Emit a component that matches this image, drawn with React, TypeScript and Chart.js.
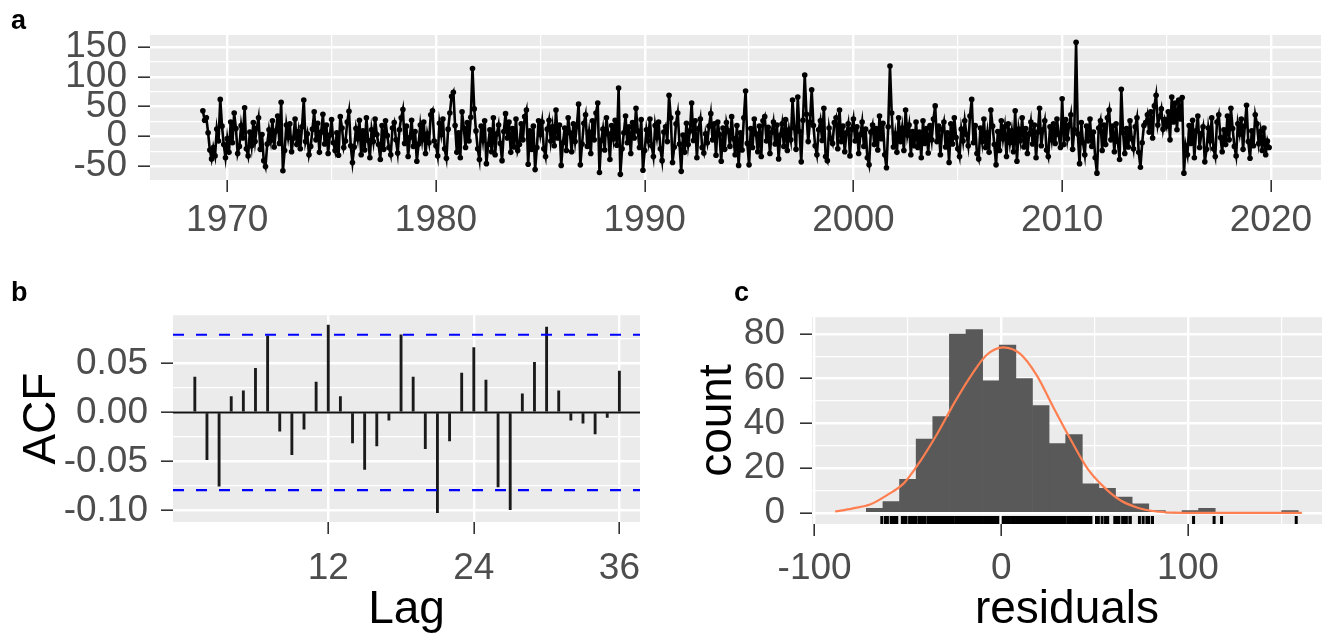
import React, { useEffect, useRef } from 'react';
import { Chart, registerables } from 'chart.js';

Chart.register(...registerables);

// ---------------- DATA ----------------
// Monthly residuals, starting November 1968 (panel a)
const seriesStartYear = 1968;
const seriesStartMonth = 10; // 0-based: November
const residuals: number[] = [
  43, 27,
  31, 6, -23, -38, -19, -33, 12, -8, 62, 17, -14, -36,
  -4, -27, 24, -11, 39, 13, -29, -17, 18, -3, 48, -21,
  -33, 7, -16, 23, -9, 14, 31, -22, 3, -41, -51, -13,
  11, -7, 26, -18, 9, 34, -12, 57, -58, -24, 19, -2,
  21, -26, -3, 29, -14, 8, -21, 16, 61, -9, 4, -31,
  -17, 12, 41, -6, 22, -27, 7, 37, -13, 19, -29, 2,
  28, -11, -24, 6, -32, 33, 14, -19, -8, 24, 42, -16,
  -44, -18, 13, -4, 27, -31, 9, -23, 31, -7, -36, 11,
  -9, 29, 3, -14, -39, 18, -22, 26, 1, -19, -31, 14,
  23, -6, -28, 11, 31, 45, -12, 17, -34, -2, 27, -17,
  8, -42, -13, 19, -6, 24, -29, 4, -11, 36, 43, -8,
  -16, -33, 22, 3, 29, -21, -37, 12, 39, 67, 74, 18,
  -27, 6, -36, 41, 14, -19, 23, -8, 32, 114, 46, 9,
  -21, -39, 17, -7, 26, -46, -14, 11, -26, 31, -31, 4,
  19, -12, -41, 8, 38, -3, 24, -27, 13, -18, 29, -24,
  -14, 21, -6, 33, 44, -47, 9, -22, 17, -56, -19, 26,
  3, 24, -21, -34, 12, 27, -8, 16, -16, 44, -3, 19,
  -49, -11, 14, -24, 31, 6, -26, 21, -9, 17, 54, -48,
  -13, 22, 36, -17, 7, -29, 26, -6, 39, 56, -61, -7,
  12, -23, 31, 4, -39, 18, -4, 27, -15, 81, -64, -21,
  6, 34, -11, 16, -29, 23, -3, 47, 9, -19, 28, -57,
  -24, 11, -8, 29, -16, -34, 18, -2, 24, -21, -41, 7,
  16, -9, 69, 31, -44, -18, 21, 39, -13, -59, 2, -27,
  22, -14, 9, 56, -7, 26, -36, 13, 29, -19, -28, 4,
  -11, 17, 38, -6, 21, -32, 24, 3, -42, 14, -22, 23,
  9, -17, 33, -4, -31, 18, -49, 6, -23, 31, 76, -12,
  -48, 13, -19, 29, 4, -26, 17, -34, 26, 33, -8, 15,
  -29, 7, 24, -13, 19, -38, 2, 21, -17, 28, -24, 11,
  -6, 61, 14, -22, 66, 8, -43, 27, 103, 37, -9, 24,
  78, 18, -16, -31, 11, 26, -7, 47, -34, -41, 14, -4,
  -12, 23, 31, -21, 44, -9, 17, -26, 6, 21, -33, 12,
  29, -8, 16, -29, 3, 24, -17, 12, -36, -48, 7, 19,
  -14, 13, -23, 34, -4, 22, -31, -53, 16, 118, 39, -18,
  4, -27, 31, -9, 14, -24, 44, 2, 19, -31, 8, -16,
  24, -19, 7, -36, 26, -12, 13, -28, 18, -6, 29, 51,
  -9, 17, -31, 11, 24, -18, 6, -44, 21, -13, 31, -2,
  -21, -34, 12, -8, 26, 3, -16, 34, 62, -11, 18, -29,
  -38, 14, -9, 29, -19, 6, -27, 44, 17, -14, -48, 8,
  -24, 26, -4, 16, -34, 21, -11, 9, -26, 43, -42, 12,
  -7, 31, -18, 13, -29, 4, 24, -13, 19, -36, 7, 47,
  -16, 11, 26, -23, -34, 16, -6, 21, -12, 29, 3, -19,
  63, -14, 28, -4, 19, 36, -22, 11, 158, 4, -46, 23,
  -11, -31, 17, -8, 29, -17, 7, -36, -62, 14, 26, -24,
  19, -14, 31, 44, -6, 17, -26, 21, -9, -39, 79, 6,
  -29, 13, -18, 26, -4, -21, 16, 31, -27, -52, -11, 18,
  23, 36, 7, 41, -3, 51, 69, 19, 33, 46, 12, 28,
  17, 41, -6, 66, 24, 56, 11, 61, 29, 65, -62, -16,
  -31, 18, -12, 27, -36, 9, 34, -19, 4, 16, -43, -22,
  14, -8, 31, -21, -34, 24, 36, -2, -26, 11, -14, 34,
  -6, 47, 13, -17, -33, 21, 4, 29, -22, 17, 52, -9,
  -37, 9, -16, 36, 21, -12, 8, -24, 14, -31, -8, -19,
];

// Panel b: autocorrelation of the residuals
const acfLags: number[] = [
  1, 2, 3, 4, 5, 6, 7, 8, 9, 10, 11, 12, 13, 14, 15, 16, 17, 18,
  19, 20, 21, 22, 23, 24, 25, 26, 27, 28, 29, 30, 31, 32, 33, 34, 35, 36,
];
const acfValues: number[] = [
  0.036, -0.048, -0.075, 0.016, 0.022, 0.045, 0.078, -0.019, -0.043, -0.017, 0.031, 0.089,
  0.016, -0.031, -0.058, -0.034, -0.008, 0.079, 0.036, -0.037, -0.102, -0.029, 0.040, 0.066,
  0.033, -0.076, -0.099, 0.019, 0.051, 0.087, 0.022, -0.008, -0.011, -0.022, -0.005, 0.042,
];
const acfBound = 0.0791;

// Panel c: histogram of residuals and fitted normal curve
const histBinCenters: number[] = [
  -67.85, -58.95, -50.05, -41.15, -32.25, -23.35, -14.45, -5.55, 3.35, 12.25, 21.15, 30.05, 38.95,
  47.85, 56.75, 65.65, 74.55, 83.45, 92.35, 101.25, 110.15, 119.05, 127.95, 136.85, 145.75, 154.65,
];
const histCounts: number[] = [
  2, 5, 15, 33, 43, 80, 82, 59, 75, 60, 48, 31, 35,
  13, 11, 7, 4, 1, 0, 1, 2, 0, 0, 0, 0, 1,
];
const curveX: number[] = [
  -89, -80, -70, -61, -52, -43, -34, -25, -16, -8, 1, 10, 19, 28, 37, 46, 55, 64, 73, 82, 92, 105, 130, 161,
];
const curveY: number[] = [
  0.6, 1.9, 3.8, 8, 13.4, 23.6, 35.8, 49.4, 61.6, 70.5, 74, 71.2, 61.5, 47, 33, 20, 11.5, 5.5, 2.3, 0.7, 0.1, 0, 0, 0,
];

// Axis breaks
const aYMajor = [-50, 0, 50, 100, 150];
const aYMinor = [-75, -25, 25, 75, 125, 175];
const aXMajor = [1970, 1980, 1990, 2000, 2010, 2020];
const aXMinor = [1965, 1975, 1985, 1995, 2005, 2015, 2025];
const bYMajor = [-0.1, -0.05, 0, 0.05, 0.1];
const bYMinor = [-0.075, -0.025, 0.025, 0.075];
const bXMajor = [12, 24, 36];
const cYMajor = [0, 20, 40, 60, 80];
const cYMinor = [10, 30, 50, 70, 90];
const cXMajor = [-100, 0, 100];
const cXMinor = [-50, 50, 150];

// ---------------- STYLE ----------------
const FONT = "'Liberation Sans', Arial, sans-serif";
const TICK_TEXT = '#4D4D4D';
const PANEL_BG = '#EBEBEB';

const isIn = (arr: number[], v: number) => arr.some((m) => Math.abs(m - v) < 1e-9);

function axis(o: {
  axis: 'x' | 'y';
  min: number;
  max: number;
  majors: number[];
  minors: number[];
  fmt: (v: number) => string;
  size: number;
  pad: number;
  title?: string;
  titlePad?: number;
}) {
  const all = [...o.majors, ...o.minors]
    .filter((v) => v >= o.min && v <= o.max)
    .sort((a, b) => a - b);
  return {
    type: 'linear',
    position: o.axis === 'x' ? 'bottom' : 'left',
    min: o.min,
    max: o.max,
    offset: false,
    afterBuildTicks: (s: any) => {
      s.ticks = all.map((v) => ({ value: v }));
    },
    afterFit: (s: any) => {
      if (o.axis === 'x') s.height = o.size;
      else s.width = o.size;
    },
    ticks: {
      autoSkip: false,
      maxRotation: 0,
      minRotation: 0,
      padding: o.pad,
      color: TICK_TEXT,
      font: { family: FONT, size: 37 },
      callback: (v: number) => (isIn(o.majors, v) ? o.fmt(v) : ''),
    },
    grid: {
      offset: false,
      color: '#FFFFFF',
      lineWidth: (c: any) => (c.tick && isIn(o.majors, c.tick.value) ? 2.4 : 1.2),
      tickColor: (c: any) => (c.tick && isIn(o.majors, c.tick.value) ? '#333333' : 'rgba(0,0,0,0)'),
      tickLength: 12,
      tickWidth: 1.6,
      drawTicks: true,
    },
    border: { display: false },
    title: o.title
      ? {
          display: true,
          text: o.title,
          color: '#000000',
          font: { family: FONT, size: 46 },
          padding: { top: o.titlePad ?? 0, bottom: o.titlePad ?? 0 },
        }
      : { display: false },
  };
}

const bgPlugin = {
  id: 'panelBg',
  beforeDraw(chart: any) {
    const { ctx, chartArea: a } = chart;
    ctx.save();
    ctx.fillStyle = PANEL_BG;
    ctx.fillRect(a.left, a.top, a.right - a.left, a.bottom - a.top);
    ctx.restore();
  },
};

const acfLinesPlugin = {
  id: 'acfLines',
  afterDatasetsDraw(chart: any) {
    const { ctx, chartArea: a, scales } = chart;
    const y = scales.y;
    ctx.save();
    ctx.beginPath();
    ctx.rect(a.left, a.top, a.right - a.left, a.bottom - a.top);
    ctx.clip();
    ctx.strokeStyle = '#111111';
    ctx.lineWidth = 2;
    ctx.beginPath();
    const y0 = y.getPixelForValue(0);
    ctx.moveTo(a.left, y0);
    ctx.lineTo(a.right, y0);
    ctx.stroke();
    ctx.strokeStyle = '#0000FF';
    ctx.lineWidth = 2.2;
    ctx.setLineDash([11, 12]);
    [acfBound, -acfBound].forEach((v) => {
      const py = y.getPixelForValue(v);
      ctx.beginPath();
      ctx.moveTo(a.left, py);
      ctx.lineTo(a.right, py);
      ctx.stroke();
    });
    ctx.restore();
  },
};

const rugPlugin = {
  id: 'rug',
  afterDatasetsDraw(chart: any) {
    const { ctx, chartArea: a, scales } = chart;
    const x = scales.x;
    ctx.save();
    ctx.beginPath();
    ctx.rect(a.left, a.top, a.right - a.left, a.bottom - a.top);
    ctx.clip();
    ctx.strokeStyle = '#000000';
    ctx.lineWidth = 3;
    residuals.forEach((r) => {
      const px = x.getPixelForValue(r);
      ctx.beginPath();
      ctx.moveTo(px, a.bottom);
      ctx.lineTo(px, a.bottom - 8);
      ctx.stroke();
    });
    ctx.restore();
  },
};

const baseOpts = {
  animation: false,
  responsive: false,
  devicePixelRatio: 1,
  plugins: { legend: { display: false }, tooltip: { enabled: false } },
};

export default function App() {
  const aRef = useRef<HTMLCanvasElement>(null);
  const bRef = useRef<HTMLCanvasElement>(null);
  const cRef = useRef<HTMLCanvasElement>(null);

  useEffect(() => {
    const charts: Chart[] = [];

    charts.push(
      new Chart(aRef.current as HTMLCanvasElement, {
        type: 'line',
        data: {
          datasets: [
            {
              data: residuals.map((v, i) => ({
                x: seriesStartYear + (seriesStartMonth + i) / 12,
                y: v,
              })),
              borderColor: '#000000',
              borderWidth: 2.6,
              pointRadius: 2.8,
              pointBackgroundColor: '#000000',
              pointBorderWidth: 0,
              tension: 0,
            },
          ],
        },
        options: {
          ...baseOpts,
          layout: { padding: { top: 35, right: 3, left: 0, bottom: 0 } },
          scales: {
            x: axis({
              axis: 'x', min: 1966.3, max: 2022.4, majors: aXMajor, minors: aXMinor,
              fmt: (v) => String(v), size: 70, pad: 7,
            }),
            y: axis({
              axis: 'y', min: -73.5, max: 170.2, majors: aYMajor, minors: aYMinor,
              fmt: (v) => String(v), size: 150, pad: 11,
            }),
          },
        } as any,
        plugins: [bgPlugin],
      })
    );

    charts.push(
      new Chart(bRef.current as HTMLCanvasElement, {
        type: 'bar',
        data: {
          datasets: [
            {
              data: acfLags.map((l, i) => ({ x: l, y: acfValues[i] })),
              backgroundColor: '#1A1A1A',
              borderWidth: 0,
              barThickness: 2.2,
            },
          ],
        },
        options: {
          ...baseOpts,
          layout: { padding: { top: 17, right: 40, left: 0, bottom: 0 } },
          scales: {
            x: axis({
              axis: 'x', min: -0.8, max: 37.7, majors: bXMajor, minors: [],
              fmt: (v) => String(v), size: 117, pad: 13, title: 'Lag', titlePad: 1,
            }),
            y: axis({
              axis: 'y', min: -0.1116, max: 0.099, majors: bYMajor, minors: bYMinor,
              fmt: (v) => v.toFixed(2), size: 173, pad: 13, title: 'ACF', titlePad: 15,
            }),
          },
        } as any,
        plugins: [bgPlugin, acfLinesPlugin],
      })
    );

    charts.push(
      new Chart(cRef.current as HTMLCanvasElement, {
        type: 'bar',
        data: {
          datasets: [
            {
              type: 'line',
              order: 0,
              data: curveX.map((x, i) => ({ x, y: curveY[i] })),
              borderColor: '#FF7F50',
              borderWidth: 2.2,
              pointRadius: 0,
              cubicInterpolationMode: 'monotone',
            } as any,
            {
              type: 'bar',
              order: 1,
              data: histBinCenters.map((x, i) => ({ x, y: histCounts[i] })),
              backgroundColor: '#595959',
              borderWidth: 0,
              barPercentage: 1,
              categoryPercentage: 1,
            } as any,
          ],
        },
        options: {
          ...baseOpts,
          layout: { padding: { top: 17, right: 3, left: 0, bottom: 0 } },
          scales: {
            x: axis({
              axis: 'x', min: -101.4, max: 171.8, majors: cXMajor, minors: cXMinor,
              fmt: (v) => String(v), size: 115, pad: 11, title: 'residuals', titlePad: 1,
            }),
            y: axis({
              axis: 'y', min: -5, max: 87.5, majors: cYMajor, minors: cYMinor,
              fmt: (v) => String(v), size: 132, pad: 15, title: 'count', titlePad: 11,
            }),
          },
        } as any,
        plugins: [bgPlugin, rugPlugin],
      })
    );

    return () => charts.forEach((c) => c.destroy());
  }, []);

  const letter: React.CSSProperties = {
    position: 'absolute',
    fontFamily: FONT,
    fontWeight: 'bold',
    fontSize: 27,
    lineHeight: '27px',
    color: '#000',
  };

  return (
    <div
      style={{
        position: 'fixed',
        left: 0,
        top: 0,
        width: 1325,
        height: 639,
        background: '#FFFFFF',
        overflow: 'hidden',
      }}
    >
      <canvas ref={aRef} width={1325} height={250} style={{ position: 'absolute', left: 0, top: 0 }} />
      <canvas ref={bRef} width={680} height={359} style={{ position: 'absolute', left: 0, top: 280 }} />
      <canvas ref={cRef} width={645} height={359} style={{ position: 'absolute', left: 680, top: 280 }} />
      <div style={{ ...letter, left: 11, top: 7 }}>a</div>
      <div style={{ ...letter, left: 11, top: 279 }}>b</div>
      <div style={{ ...letter, left: 734, top: 279 }}>c</div>
    </div>
  );
}
